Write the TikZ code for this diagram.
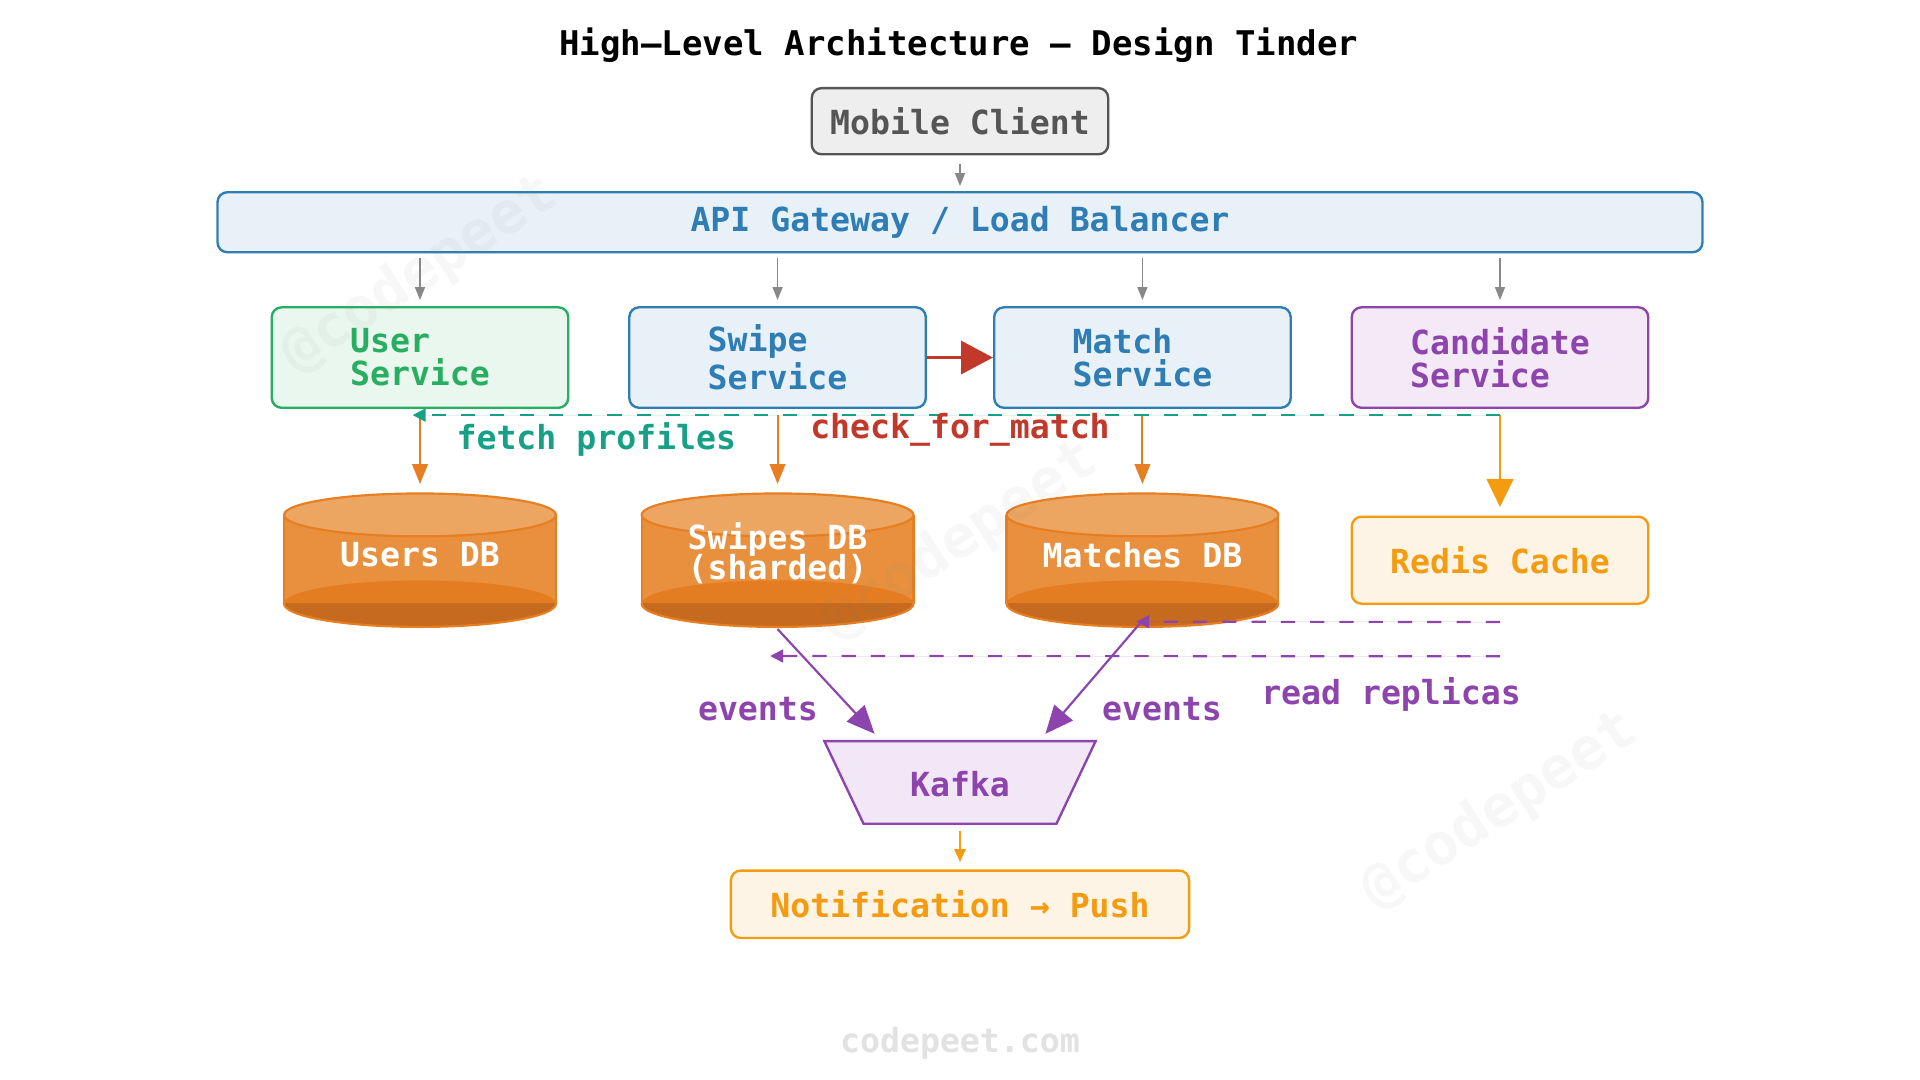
\documentclass[tikz,border=0pt]{standalone}
\usepackage{fontspec}
\setmainfont{DejaVu Sans Mono}
\usetikzlibrary{arrows.meta,calc}
\definecolor{cgray}{HTML}{555555}
\definecolor{cgrayfill}{HTML}{EEEEEE}
\definecolor{carrow}{HTML}{888888}
\definecolor{cblue}{HTML}{2E7DB5}
\definecolor{cbluefill}{HTML}{E8F1F8}
\definecolor{cgreen}{HTML}{27AE60}
\definecolor{cgreenfill}{HTML}{E9F7EE}
\definecolor{cpurple}{HTML}{8E44AD}
\definecolor{cpurplefill}{HTML}{F4E9F6}
\definecolor{ckafkafill}{HTML}{F1E7F6}
\definecolor{corange}{HTML}{E67E22}
\definecolor{cyellow}{HTML}{F39C12}
\definecolor{cyellowfill}{HTML}{FEF4E6}
\definecolor{cred}{HTML}{C0392B}
\definecolor{cteal}{HTML}{16A085}
\definecolor{dbbody}{HTML}{E8903E}
\definecolor{dbtop}{HTML}{EDA562}
\definecolor{dbmid}{HTML}{E47D22}
\definecolor{dbdark}{HTML}{C56A1E}
\definecolor{cfooter}{HTML}{E2E2E2}
\tikzset{
  box/.style={draw, rounded corners=0.08cm, line width=0.55pt, inner sep=0pt},
  svc/.style={box, minimum width=2.42cm, minimum height=0.82cm, align=left},
  lbl/.style={inner sep=0pt},
  garrow/.style={draw=carrow, line width=0.4pt, -{Triangle[length=3pt,width=2.3pt]}},
  oarrow/.style={draw=corange, line width=0.45pt, -{Triangle[length=4.6pt,width=3.6pt]}},
  dasharrow/.style={line width=0.5pt, dash pattern=on 3.3pt off 3.5pt, -{Triangle[length=3pt,width=3pt]}},
  evarrow/.style={draw=cpurple, line width=0.5pt, -{Triangle[length=6.5pt,width=5.6pt]}},
  wm/.style={text=gray, opacity=0.06, rotate=33, font=\fontsize{13.5}{14}\selectfont\bfseries}
}
\newcommand{\dbcyl}[4]{%
  \fill[dbbody] (#2-111,420.5) rectangle (#2+111,493);
  \fill[dbmid] (#2,493) ellipse [x radius=111, y radius=19];
  \begin{scope}
    \clip (#2-120,493) rectangle (#2+120,520);
    \fill[dbdark] (#2,493) ellipse [x radius=111, y radius=19];
    \draw[corange, line width=0.5pt] (#2,493) ellipse [x radius=111, y radius=19];
  \end{scope}
  \draw[corange, line width=0.5pt] (#2-111,420.5) -- (#2-111,493) (#2+111,420.5) -- (#2+111,493);
  \filldraw[fill=dbtop, draw=corange, line width=0.5pt] (#2,420.5) ellipse [x radius=111, y radius=17.5];
  \node[minimum width=2.22cm, minimum height=1.10cm, inner sep=0pt] (#1) at (#2,458) {};
  \node[lbl, text=white, align=center] (#1t) at (#2,#3) {#4};
}
\begin{document}
\begin{tikzpicture}[x=0.01cm, y=-0.01cm, font=\fontsize{7.7}{7.7}\selectfont\bfseries]
\useasboundingbox (0,0) rectangle (1568,882);
\fill[white] (0,0) rectangle (1568,882);

% title
\node[lbl, font=\fontsize{7.9}{8}\selectfont\bfseries] (title) at (783,37) {High–Level Architecture — Design Tinder};

% top nodes
\node[box, draw=cgray, fill=cgrayfill, text=cgray, minimum width=2.42cm, minimum height=0.54cm] (mob) at (784,99) {Mobile Client};
\node[box, draw=cblue, fill=cbluefill, text=cblue, minimum width=12.12cm, minimum height=0.49cm] (gw) at (784,181.5) {API Gateway / Load Balancer};

% services
\node[svc, draw=cgreen, fill=cgreenfill, text=cgreen] (usr) at (343,292) {User\\Service};
\node[svc, draw=cblue, fill=cbluefill, text=cblue] (swp) at (635,292) {Swipe\\Service};
\node[svc, draw=cblue, fill=cbluefill, text=cblue] (mat) at (933,292) {Match\\Service};
\node[svc, draw=cpurple, fill=cpurplefill, text=cpurple] (cand) at (1225,292) {Candidate\\Service};

% databases
\dbcyl{udb}{343}{453}{Users DB}
\dbcyl{sdb}{635}{452}{Swipes DB\\[-0.7pt](sharded)}
\dbcyl{mdb}{933}{453}{Matches DB}

\node[box, draw=cyellow, fill=cyellowfill, text=cyellow, minimum width=2.42cm, minimum height=0.71cm] (redis) at (1225,457.5) {Redis Cache};

% kafka
\node[minimum width=2.20cm, minimum height=0.66cm, inner sep=0pt] (kafka) at (784,639) {};
\filldraw[fill=ckafkafill, draw=cpurple, line width=0.55pt] (kafka.north west) -- (kafka.north east) -- ($(kafka.south east)+(-32,0)$) -- ($(kafka.south west)+(32,0)$) -- cycle;
\node[lbl, text=cpurple] (kafkat) at (784,640) {Kafka};

\node[box, draw=cyellow, fill=cyellowfill, text=cyellow, minimum width=3.74cm, minimum height=0.55cm] (notif) at (784,738.5) {Notification → Push};

% connectors
\draw[garrow] ($(mob.south)+(0,7)$) -- ($(gw.north)+(0,-4)$);
\foreach \n in {usr,swp,mat,cand}{
  \draw[garrow] ($(\n.north |- gw.south)+(0,4)$) -- ($(\n.north)+(0,-5)$);
}
\draw[draw=cred, line width=0.9pt, -{Triangle[length=7.4pt,width=7.6pt]}] (swp.east) -- (mat.west);

\draw[oarrow] ($(usr.south)+(0,5)$) -- ($(udb.north)+(0,-7)$);
\draw[oarrow] ($(swp.south)+(0,5)$) -- ($(sdb.north)+(0,-7)$);
\draw[oarrow] ($(mat.south)+(0,5)$) -- ($(mdb.north)+(0,-7)$);

\draw[draw=cyellow, line width=0.5pt, -{Triangle[length=6.5pt,width=6.2pt]}] ($(cand.south)+(0,5)$) -- ($(redis.north)+(0,-7)$);
\draw[dasharrow, draw=cteal, fill=cteal] ($(cand.south)+(0,5)$) -- ($(usr.south)+(-6,5)$);

\node[lbl, text=cteal] (lfetch) at (487,359) {fetch profiles};
\node[lbl, text=cred] (lcheck) at (784,351) {check\_for\_match};

\draw[dasharrow, draw=cpurple, fill=cpurple] ($(redis.south)+(0,14)$) -- ($(mdb.south)+(-5,-6)$);
\draw[dasharrow, draw=cpurple, fill=cpurple] ($(redis.south)+(0,42)$) -- ($(sdb.south)+(-6,22)$);

\draw[evarrow] (sdb.south) -- ($(kafka.north west)+(41,-6)$);
\draw[evarrow] ($(mdb.south)+(0,-7)$) -- ($(kafka.north east)+(-41,-6)$);

\node[lbl, text=cpurple] (lev1) at (619,579) {events};
\node[lbl, text=cpurple] (lev2) at (949,579) {events};
\node[lbl, text=cpurple] (lread) at (1136,567) {read replicas};

\draw[draw=cyellow, line width=0.45pt, -{Triangle[length=3pt,width=2.6pt]}] ($(kafka.south)+(0,6)$) -- ($(notif.north)+(0,-6)$);

% footer and watermarks
\node[lbl, text=cfooter] (footer) at (784,852) {codepeet.com};
\node[wm] (wm1) at (343,224) {@codepeet};
\node[wm] (wm2) at (784,442) {@codepeet};
\node[wm] (wm3) at (1225,662) {@codepeet};
\end{tikzpicture}
\end{document}
